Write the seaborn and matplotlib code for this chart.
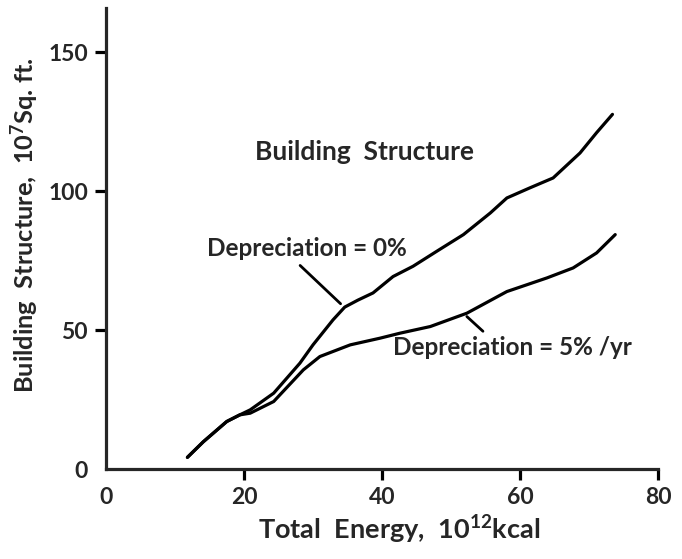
import matplotlib
matplotlib.use("Agg")
import matplotlib.pyplot as plt
import seaborn as sns
import pandas as pd

# ---- data ----
energy_0 = [11.8, 14.1, 17.5, 19.4, 20.9, 24.3, 28.1, 30.0, 32.9, 34.6, 36.5, 38.7, 41.6,
            44.5, 48.0, 51.8, 55.7, 58.1, 61.4, 64.8, 68.7, 71.1, 73.4]
struct_0 = [4.2, 9.8, 17.1, 19.5, 21.3, 27.3, 38.1, 44.7, 53.7, 58.3, 60.8, 63.4, 69.3,
            73.0, 78.5, 84.4, 92.2, 97.6, 101.2, 104.8, 113.8, 121.1, 127.7]
energy_5 = [11.8, 14.1, 17.5, 19.4, 20.9, 24.3, 28.6, 31.0, 35.4, 39.7, 42.6, 47.0,
            52.3, 58.1, 63.9, 67.7, 71.1, 73.8]
struct_5 = [4.2, 9.8, 17.1, 19.5, 20.1, 24.3, 35.7, 40.5, 44.7, 47.1, 48.9, 51.3,
            56.1, 63.9, 68.8, 72.4, 77.8, 84.4]
series_names = ["Depreciation = 0%", "Depreciation = 5% /yr"]
x_ticks = [0, 20, 40, 60, 80]
y_ticks = [0, 50, 100, 150]

df = pd.concat([
    pd.DataFrame({"energy": energy_0, "structure": struct_0, "series": series_names[0]}),
    pd.DataFrame({"energy": energy_5, "structure": struct_5, "series": series_names[1]}),
], ignore_index=True)

sns.set_style("ticks")
plt.rcParams["font.family"] = ["Lato", "DejaVu Sans"]
plt.rcParams["font.weight"] = "bold"

fig = plt.figure(figsize=(6.82, 5.59), dpi=100)
ax = fig.add_axes([106 / 682, 1 - 469 / 559, 552 / 682, 461 / 559])

sns.lineplot(data=df, x="energy", y="structure", units="series", estimator=None,
             sort=False, color="black", linewidth=2.3, ax=ax, legend=False)

ax.set_xlim(0, 80)
ax.set_ylim(0, 166)
ax.set_xticks(x_ticks)
ax.set_yticks(y_ticks)
ax.set_xticklabels([str(v) for v in x_ticks], fontsize=16.5, fontweight="bold")
ax.set_yticklabels([str(v) for v in y_ticks], fontsize=16.5, fontweight="bold")
sns.despine(ax=ax)
for s in ["left", "bottom"]:
    ax.spines[s].set_linewidth(2.3)
ax.tick_params(axis="both", length=8, width=2.3, pad=5, color="black")
ax.xaxis.get_major_ticks()[0].tick1line.set_visible(False)
ax.yaxis.get_major_ticks()[0].tick1line.set_visible(False)

ax.set_xlabel(r"Total  Energy,  10$\mathregular{^{12}}$kcal", fontsize=19.5,
              fontweight="bold", va="center")
ax.xaxis.set_label_coords(0.531, -0.132)
ax.set_ylabel(r"Building  Structure,  10$\mathregular{^7}$Sq. ft.", fontsize=18.3,
              fontweight="bold", va="center")
ax.yaxis.set_label_coords(-0.147, 0.528)

ax.text(37.5, 114.3, "Building  Structure", fontsize=19, fontweight="bold",
        ha="center", va="center")
ax.annotate(series_names[0], xy=(34.0, 59.5), xytext=(14.6, 79.3),
            fontsize=17.5, fontweight="bold", ha="left", va="center",
            arrowprops=dict(arrowstyle="-", color="black", lw=2.0,
                            shrinkA=2, shrinkB=0, relpos=(0.44, 0.0)))
ax.annotate(series_names[1], xy=(52.3, 54.9), xytext=(41.6, 43.6),
            fontsize=17.5, fontweight="bold", ha="left", va="center",
            arrowprops=dict(arrowstyle="-", color="black", lw=2.0,
                            shrinkA=2, shrinkB=0, relpos=(0.40, 1.0)))

fig.savefig("out.png", dpi=100)
